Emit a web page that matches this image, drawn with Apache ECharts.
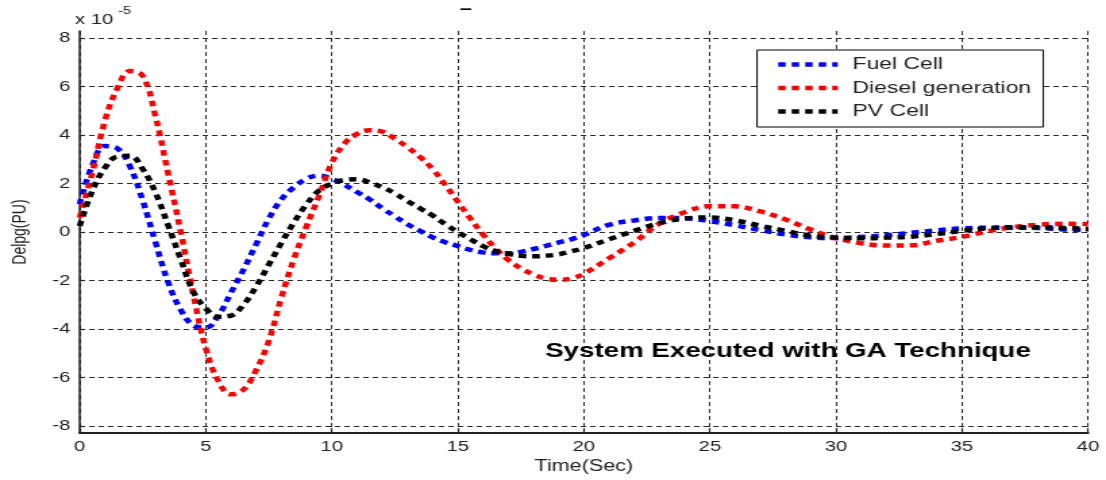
<!DOCTYPE html>
<html>
<head>
<meta charset="utf-8">
<script src="https://cdn.jsdelivr.net/npm/echarts@6/dist/echarts.min.js"></script>
<style>
  html, body { margin: 0; padding: 0; background: #fff; overflow: hidden; }
  #wrap { width: 819px; height: 480px; transform: scaleX(1.35043); transform-origin: 0 0; }
</style>
</head>
<body>
<div id="wrap"></div>
<script>
// ---- data (values in units of 1e-5 PU) ----
const times = [0,0.5,1,1.5,2,2.5,3,3.5,4,4.5,5,5.5,6,6.5,7,7.5,8,8.5,9,9.5,10,10.5,11,11.5,12,12.5,13,13.5,14,14.5,15,15.5,16,16.5,17,17.5,18,18.5,19,19.5,20,
  21,22,23,24,25,26,27,28,29,30,31,32,33,34,35,36,37,38,39,40];
const fuelCell = [1.15,2.75,3.55,3.45,2.7,1.3,-0.4,-2.05,-3.2,-3.85,-3.95,-3.45,-2.5,-1.55,-0.5,0.55,1.35,1.85,2.2,2.33,2.2,1.95,1.65,1.35,0.98,0.65,0.32,0.05,-0.22,-0.42,-0.58,-0.74,-0.84,-0.88,-0.88,-0.82,-0.7,-0.57,-0.43,-0.3,-0.12,
  0.3,0.48,0.58,0.57,0.45,0.28,0.08,-0.1,-0.22,-0.25,-0.2,-0.13,-0.03,0.07,0.15,0.18,0.18,0.17,0.11,0.07];
const dieselGen = [0.6,2.45,4.6,5.95,6.65,6.45,4.8,2.45,0.05,-2.55,-4.8,-6.15,-6.7,-6.5,-5.7,-4.5,-2.7,-1.1,0.25,1.5,2.85,3.65,4.05,4.2,4.15,3.85,3.5,3.1,2.6,1.95,1.25,0.55,-0.1,-0.68,-1.15,-1.5,-1.75,-1.92,-1.97,-1.92,-1.72,
  -1.08,-0.42,0.35,0.82,1.07,1.06,0.85,0.52,0.1,-0.25,-0.46,-0.56,-0.55,-0.36,-0.2,0.03,0.2,0.3,0.34,0.33];
const pvCell = [0.25,1.7,2.65,3.12,3.15,2.6,1.65,0.3,-1.1,-2.45,-3.15,-3.5,-3.45,-3.0,-2.25,-1.35,-0.45,0.4,1.15,1.72,2.0,2.15,2.18,2.05,1.85,1.6,1.28,0.98,0.68,0.33,0.0,-0.3,-0.58,-0.78,-0.9,-0.98,-1.0,-0.98,-0.92,-0.8,-0.66,
  -0.3,0.05,0.37,0.56,0.6,0.48,0.26,0.05,-0.15,-0.23,-0.26,-0.23,-0.19,-0.08,0.05,0.15,0.2,0.2,0.17,0.13];
const seriesNames = ['Fuel Cell', 'Diesel generation', 'PV Cell'];
const seriesColors = ['#0000ff', '#ff0000', '#000000'];
const yTicks = [-8,-6,-4,-2,0,2,4,6,8];
const xTicks = [0,5,10,15,20,25,30,35,40];
const xName = 'Time(Sec)';
const yName = 'Delpg(PU)';
const annotation = 'System Executed with GA Technique';

const FONT = '"Liberation Sans", Arial, sans-serif';
const pairs = arr => times.map((t, i) => [t, arr[i]]);
const allData = [fuelCell, dieselGen, pvCell];
const dotPattern = [5.5, 4.5];

const chart = echarts.init(document.getElementById('wrap'), null, { renderer: 'canvas' });
const gridDash = [4, 3];
chart.setOption({
  animation: false,
  backgroundColor: '#fff',
  grid: { left: 56.3, right: 13.3, top: 31, bottom: 44, containLabel: false },
  xAxis: {
    type: 'value', min: 0, max: 40, interval: 5,
    name: xName, nameLocation: 'middle', nameGap: 23,
    nameTextStyle: { fontFamily: FONT, fontSize: 16, color: '#222' },
    axisLine: { show: true, onZero: false, lineStyle: { color: '#222', width: 2 } },
    axisTick: { show: true, inside: true, length: 5, lineStyle: { color: '#222', width: 1.2 }, customValues: xTicks },
    axisLabel: { fontFamily: FONT, fontSize: 15, color: '#222', margin: 6, customValues: xTicks },
    splitLine: { show: true, lineStyle: { color: '#2a2a2a', width: 1, type: gridDash } }
  },
  yAxis: {
    type: 'value', min: -8.3, max: 8.3,
    name: yName, nameLocation: 'middle', nameRotate: 90, nameGap: 37,
    nameTextStyle: { fontFamily: FONT, fontSize: 14, color: '#222' },
    axisLine: { show: true, onZero: false, lineStyle: { color: '#222', width: 1.5 } },
    axisTick: { show: true, inside: true, length: 4, lineStyle: { color: '#222', width: 1.2 }, customValues: yTicks },
    axisLabel: { fontFamily: FONT, fontSize: 15, color: '#222', margin: 7, customValues: yTicks },
    splitLine: { show: true, lineStyle: { color: '#2a2a2a', width: 1, type: gridDash } }
  },
  legend: {
    orient: 'vertical', align: 'left',
    left: 560.6, top: 50,
    padding: [6, 9, 7, 13.4],
    itemWidth: 44, itemHeight: 14, itemGap: 6.5,
    backgroundColor: '#fff', borderColor: '#000', borderWidth: 1,
    itemStyle: { opacity: 0, borderWidth: 0 },
    lineStyle: { width: 4.5, type: dotPattern, cap: 'butt' },
    textStyle: { fontFamily: FONT, fontSize: 17, color: '#222', padding: [0, 0, 0, 6] },
    data: seriesNames
  },
  graphic: [
    { type: 'text', left: 55.6, top: 12, style: { text: 'x 10', font: '15px ' + FONT, fill: '#222' } },
    { type: 'text', left: 87.4, top: 5, style: { text: '-5', font: '11px ' + FONT, fill: '#222' } },
    { type: 'text', left: 340.5, top: 2, style: { text: '–', font: 'bold 16px ' + FONT, fill: '#000' } },
    { type: 'text', left: 403.7, top: 341, style: { text: annotation, font: 'bold 20.5px ' + FONT, fill: '#000' } }
  ],
  series: seriesNames.map((name, i) => ({
    name: name,
    type: 'line',
    data: pairs(allData[i]),
    symbol: 'none',
    smooth: 0.4,
    color: seriesColors[i],
    lineStyle: { color: seriesColors[i], width: 4.5, type: dotPattern, cap: 'butt' }
  }))
});
</script>
</body>
</html>
